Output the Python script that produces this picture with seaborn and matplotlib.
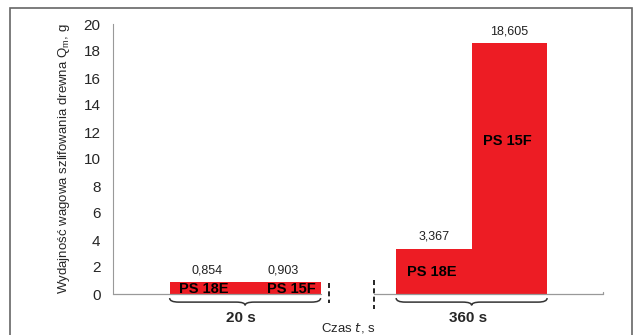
import numpy as np
import pandas as pd
import seaborn as sns
import matplotlib.pyplot as plt
from matplotlib.path import Path
from matplotlib.patches import PathPatch, Rectangle

# data
times = ["20 s", "360 s"]
tools = ["PS 18E", "PS 15F"]
values = [0.854, 0.903, 3.367, 18.605]
yticks = list(range(0, 21, 2))

sns.set_style("white")
plt.rcParams['font.family'] = ['Liberation Sans', 'DejaVu Sans']

# bar positions: two groups of two adjacent bars, gap between groups
pos = [g * 3 + s + 1.25 for g in range(len(times)) for s in range(len(tools))]
df = pd.DataFrame({"pos": pos, "val": values,
                   "tool": tools * len(times),
                   "time": [t for t in times for _ in tools]})

fig = plt.figure(figsize=(6.4, 3.35), dpi=100)
ax = fig.add_axes([113 / 640, 41 / 335, 490 / 640, 270 / 335])

sns.barplot(data=df, x="pos", y="val", native_scale=True, width=1,
            color="#ED1C24", saturation=1, errorbar=None, ax=ax,
            edgecolor="none", linewidth=0)

ax.set_xlim(0, 6.49)
ax.set_ylim(0, 20)
ax.set_yticks(yticks)
ax.set_yticklabels([str(t) for t in yticks], fontsize=11)
ax.set_xticks([])
ax.set_xlabel("")
ax.set_ylabel("Wydajność wagowa szlifowania drewna Q$_\\mathregular{m}$, g",
              fontsize=9.5, labelpad=8)
ax.tick_params(axis="y", direction="out", length=4, width=0.8, color="#999999", pad=5)
for s in ["top", "right", "bottom"]:
    ax.spines[s].set_visible(False)
ax.spines["left"].set_color("#999999")
ax.spines["left"].set_linewidth(0.8)

# value labels
for c in ax.containers:
    ax.bar_label(c, labels=[f"{v:.3f}".replace(".", ",") for v in values],
                 padding=4, fontsize=9, color="#222222")

# tool names inside bars (x offset, y value)
inner = [(-0.05, 0.37), (0.11, 0.37), (-0.03, 1.63), (-0.02, 11.3)]
for (dx, yv), p, t in zip(inner, df["pos"], df["tool"]):
    ax.text(p + dx, yv, t, ha="center", va="center", fontsize=10.5,
            fontweight="bold", color="black")

# broken x axis
tr = ax.get_xaxis_transform()
ax.plot([0, 2.75], [0, 0], color="#999999", lw=0.9, transform=tr, clip_on=False)
ax.plot([3.46, 6.49], [0, 0], color="#999999", lw=0.9, transform=tr, clip_on=False)
ax.plot([6.49, 6.49], [0, 0.008], color="#999999", lw=0.9, transform=tr, clip_on=False)
ax.plot([2.86, 2.86], [0.04, -0.035], color="black", lw=1.2, ls=(0, (3, 2)),
        transform=tr, clip_on=False)
ax.plot([3.46, 3.46], [0.052, -0.055], color="black", lw=1.2, ls=(0, (3, 2)),
        transform=tr, clip_on=False)


def brace(x0, x1, yt=-0.015, ym=-0.03, yb=-0.042, d=0.12):
    xm = (x0 + x1) / 2
    verts = [(x0, yt), (x0, ym), (x0 + d, ym), (xm - d, ym), (xm, ym), (xm, yb),
             (xm, ym), (xm + d, ym), (x1 - d, ym), (x1, ym), (x1, yt)]
    codes = [Path.MOVETO, Path.CURVE3, Path.CURVE3, Path.LINETO, Path.CURVE3, Path.CURVE3,
             Path.CURVE3, Path.CURVE3, Path.LINETO, Path.CURVE3, Path.CURVE3]
    ax.add_patch(PathPatch(Path(verts, codes), fill=False, lw=1.1, ec="#333333",
                           transform=tr, clip_on=False))


for g, t in enumerate(times):
    x0 = pos[g * 2] - 0.5
    x1 = pos[g * 2 + 1] + 0.5
    brace(x0, x1)
    ax.text((x0 + x1) / 2 - 0.05, -0.088, t, ha="center", va="center", fontsize=11,
            fontweight="bold", transform=tr)

ax.text(3.12, -0.125, "Czas $\\mathit{t}$, s", ha="center", va="center",
        fontsize=9.5, transform=tr)

# frame around the figure
fig.patches.append(Rectangle((10 / 640, -0.1), 622 / 640, 1.1 - 8 / 335,
                             transform=fig.transFigure, fill=False,
                             ec="#666666", lw=1.2))

fig.savefig("out.png", dpi=100)
